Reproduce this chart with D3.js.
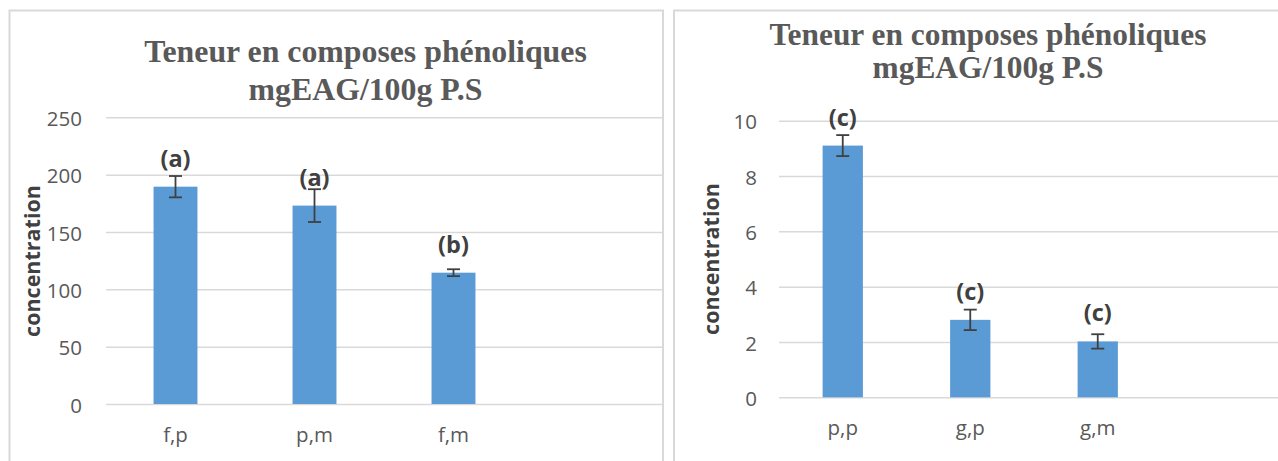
<!DOCTYPE html>
<html>
<head>
<meta charset="utf-8">
<script src="https://cdn.jsdelivr.net/npm/d3@7"></script>
<style>
  body { margin: 0; background: #fff; overflow: hidden; }
  svg { display: block; }
</style>
</head>
<body>
<div id="holder"></div>
<script>
// chart values
var titleLine1 = 'Teneur en composes phénoliques',
    titleLine2 = 'mgEAG/100g P.S',
    axisLabel = 'concentration';

var leftCategories = ['f,p', 'p,m', 'f,m'];
var leftValues = [189.5, 173, 114.5];
var leftErrors = [9.3, 14.3, 3];
var leftLetters = ['(a)', '(a)', '(b)'];
var leftTicks = [0, 50, 100, 150, 200, 250];

var rightCategories = ['p,p', 'g,p', 'g,m'];
var rightValues = [9.1, 2.8, 2.02];
var rightErrors = [0.38, 0.37, 0.26];
var rightLetters = ['(c)', '(c)', '(c)'];
var rightTicks = [0, 2, 4, 6, 8, 10];

var width = 1278,
    height = 461;

var svg = d3
    .select('#holder')
    .append('svg')
    .attr('width', width)
    .attr('height', height);

function drawChart(opt) {
    var g = svg.append('g');

    // panel border
    g.append('rect')
        .attr('x', opt.panel[0])
        .attr('y', opt.panel[1])
        .attr('width', opt.panel[2])
        .attr('height', opt.panel[3])
        .style('fill', '#fff')
        .style('stroke', '#d9d9d9')
        .style('stroke-width', 2);

    // title
    var title = g.append('text')
        .attr('text-anchor', 'middle')
        .style('font-family', '"Liberation Serif", "Times New Roman", serif')
        .style('font-weight', 'bold')
        .style('font-size', opt.titleSize + 'px')
        .style('fill', '#595959');
    title.append('tspan').attr('x', opt.titleX).attr('y', opt.titleY[0]).text(titleLine1);
    title.append('tspan').attr('x', opt.titleX).attr('y', opt.titleY[1]).text(titleLine2);

    // empty 4th slot, like the original sheet
    var xScale = d3.scaleBand()
        .domain(opt.categories.concat(['']))
        .range([opt.x0, opt.x1])
        .paddingInner(0.684)
        .paddingOuter(0.342);

    var yScale = d3.scaleLinear()
        .domain([0, d3.max(opt.ticks)])
        .range([opt.y0, opt.y1]);

    // Y axis with gridlines
    var yAxis = d3.axisLeft(yScale)
        .tickValues(opt.ticks)
        .tickSizeInner(-(opt.x1 - opt.x0))
        .tickSizeOuter(0)
        .tickPadding(opt.tickPad);
    var yg = g.append('g')
        .attr('transform', 'translate(' + opt.x0 + ',0)')
        .call(yAxis);
    yg.select('.domain').remove();
    yg.selectAll('line').style('stroke', '#d9d9d9').style('stroke-width', 1.5);
    yg.selectAll('text')
        .attr('dy', '0.4em')
        .style('font-family', '"Open Sans", sans-serif')
        .style('font-size', '20.5px')
        .style('fill', '#595959');

    // X axis labels
    var xAxis = d3.axisBottom(xScale).tickSize(0);
    var xg = g.append('g')
        .attr('transform', 'translate(0,' + opt.y0 + ')')
        .call(xAxis);
    xg.select('.domain').remove();
    xg.selectAll('text')
        .attr('y', opt.catOffset)
        .attr('dy', 0)
        .style('font-family', '"Open Sans", sans-serif')
        .style('font-size', '20.5px')
        .style('fill', '#595959');

    // axis title
    g.append('text')
        .attr('transform', 'translate(' + opt.labelPos[0] + ',' + opt.labelPos[1] + ') rotate(-90)')
        .attr('text-anchor', 'middle')
        .style('font-family', '"Open Sans", sans-serif')
        .style('font-weight', 'bold')
        .style('font-size', '21.5px')
        .style('fill', '#404040')
        .text(axisLabel);

    // bars
    g.selectAll('rect.bar')
        .data(opt.values)
        .enter()
        .append('rect')
        .attr('class', 'bar')
        .attr('x', (d, i) => xScale(opt.categories[i]))
        .attr('y', d => yScale(d))
        .attr('width', xScale.bandwidth())
        .attr('height', d => yScale(0) - yScale(d))
        .style('fill', '#5b9bd5');

    // error bars
    var cap = 6.5;
    var err = g.selectAll('g.err')
        .data(opt.values)
        .enter()
        .append('g')
        .attr('class', 'err')
        .style('stroke', '#404040')
        .style('stroke-width', 1.8);
    err.append('line')
        .attr('x1', (d, i) => xScale(opt.categories[i]) + xScale.bandwidth() / 2)
        .attr('x2', (d, i) => xScale(opt.categories[i]) + xScale.bandwidth() / 2)
        .attr('y1', (d, i) => yScale(d + opt.errors[i]))
        .attr('y2', (d, i) => yScale(d - opt.errors[i]));
    err.append('line')
        .attr('x1', (d, i) => xScale(opt.categories[i]) + xScale.bandwidth() / 2 - cap)
        .attr('x2', (d, i) => xScale(opt.categories[i]) + xScale.bandwidth() / 2 + cap)
        .attr('y1', (d, i) => yScale(d + opt.errors[i]))
        .attr('y2', (d, i) => yScale(d + opt.errors[i]));
    err.append('line')
        .attr('x1', (d, i) => xScale(opt.categories[i]) + xScale.bandwidth() / 2 - cap)
        .attr('x2', (d, i) => xScale(opt.categories[i]) + xScale.bandwidth() / 2 + cap)
        .attr('y1', (d, i) => yScale(d - opt.errors[i]))
        .attr('y2', (d, i) => yScale(d - opt.errors[i]));

    // significance letters
    g.selectAll('text.letter')
        .data(opt.values)
        .enter()
        .append('text')
        .attr('class', 'letter')
        .attr('x', (d, i) => xScale(opt.categories[i]) + xScale.bandwidth() / 2)
        .attr('y', d => yScale(d) - 20)
        .attr('text-anchor', 'middle')
        .style('font-family', '"Open Sans", sans-serif')
        .style('font-weight', 'bold')
        .style('font-size', '23.5px')
        .style('fill', '#404040')
        .text((d, i) => opt.letters[i]);
}

drawChart({
    categories: leftCategories,
    values: leftValues,
    errors: leftErrors,
    letters: leftLetters,
    ticks: leftTicks,
    panel: [9.5, 10.5, 653.5, 470],
    x0: 106, x1: 662,
    y0: 404, y1: 117.3,
    tickPad: 24,
    catOffset: 37.7,
    titleX: 365.5,
    titleY: [62, 100],
    titleSize: 31.8,
    labelPos: [40, 261]
});

drawChart({
    categories: rightCategories,
    values: rightValues,
    errors: rightErrors,
    letters: rightLetters,
    ticks: rightTicks,
    panel: [674, 10.5, 640, 470],
    x0: 779, x1: 1289,
    y0: 397.3, y1: 120.7,
    tickPad: 22,
    catOffset: 37.7,
    titleX: 988,
    titleY: [45, 78.3],
    titleSize: 31.4,
    labelPos: [719, 259]
});
</script>
</body>
</html>
